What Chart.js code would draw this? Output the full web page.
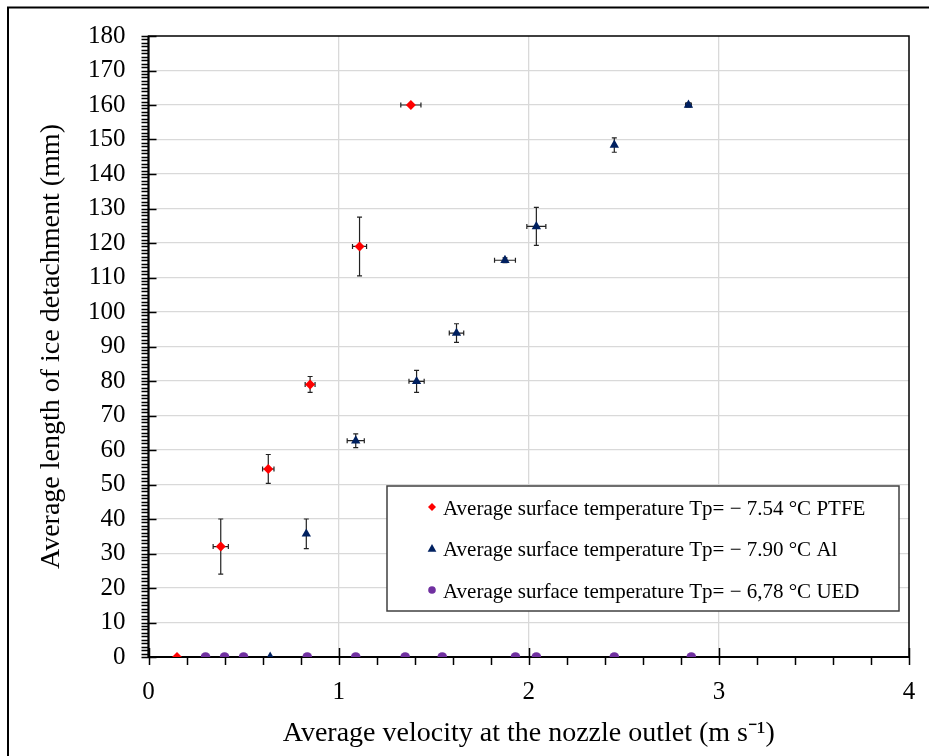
<!DOCTYPE html>
<html><head><meta charset="utf-8">
<script src="https://cdn.jsdelivr.net/npm/chart.js@4.4.1/dist/chart.umd.min.js"></script>
<style>html,body{margin:0;padding:0;background:#fff;}#wrap{width:929px;height:756px;}</style>
</head><body><div id="wrap"><canvas id="c" width="929" height="756"></canvas></div>
<script>
// ---- data ----
const ptfeX    = [0.15, 0.38, 0.63, 0.85, 1.11, 1.38];
const ptfeY    = [0, 32, 54.5, 79, 119, 160];
const ptfeXErr = [0, 0.04, 0.03, 0.026, 0.037, 0.053];
const ptfeYErr = [0, 8, 4.2, 2.3, 8.5, 0.4];

const alX    = [0.64, 0.83, 1.09, 1.41, 1.62, 1.875, 2.04, 2.45, 2.84];
const alY    = [0, 35.7, 62.7, 79.9, 93.9, 115, 124.8, 148.4, 160];
const alXErr = [0, 0, 0.045, 0.04, 0.038, 0.055, 0.05, 0, 0.015];
const alYErr = [0, 4.3, 2, 3.2, 2.7, 0.7, 5.5, 2.1, 0.6];

const uedX = [0.30, 0.40, 0.50, 0.835, 1.09, 1.35, 1.545, 1.93, 2.04, 2.45, 2.855];
const uedY = [0, 0, 0, 0, 0, 0, 0, 0, 0, 0, 0];

const seriesLabels = [
  'Average surface temperature Tp= \u2212 7.54 \u00B0C PTFE',
  'Average surface temperature Tp= \u2212 7.90 \u00B0C Al',
  'Average surface temperature Tp= \u2212 6,78 \u00B0C UED'
];
const xTitle = 'Average velocity at the nozzle outlet (m s\u207B\u00B9)';
const yTitle = 'Average length of ice detachment (mm)';
const xMin = 0, xMax = 4, xStep = 1, xMinor = 0.2;
const yMin = 0, yMax = 180, yStep = 10, yMinor = 1;

const RED = '#ff0000', NAVY = '#002060', PURPLE = '#7030a0';
const SERIF = "'Liberation Serif','Times New Roman',serif";

function pts(xs, ys){ return xs.map((x,i)=>({x:x, y:ys[i]})); }

function drawMarker(ctx, style, x, y, r, color){
  ctx.save();
  ctx.fillStyle = color;
  ctx.beginPath();
  if (style === 'rectRot'){
    ctx.moveTo(x, y - r); ctx.lineTo(x + r, y); ctx.lineTo(x, y + r); ctx.lineTo(x - r, y);
  } else if (style === 'triangle'){
    ctx.moveTo(x, y - r); ctx.lineTo(x + r*0.95, y + r*0.7); ctx.lineTo(x - r*0.95, y + r*0.7);
  } else {
    ctx.arc(x, y, r, 0, Math.PI*2);
  }
  ctx.closePath(); ctx.fill();
  ctx.restore();
}

const errSets = [
  {xs: ptfeX, ys: ptfeY, ex: ptfeXErr, ey: ptfeYErr},
  {xs: alX, ys: alY, ex: alXErr, ey: alYErr}
];

const plotPlugin = {
  id: 'plotPlugin',
  beforeDraw(chart){
    const ctx = chart.ctx;
    ctx.save();
    ctx.fillStyle = '#fff';
    ctx.fillRect(0, 0, chart.width, chart.height);
    ctx.strokeStyle = '#000';
    ctx.lineWidth = 2;
    ctx.beginPath();
    ctx.moveTo(8, chart.height); ctx.lineTo(8, 7.5); ctx.lineTo(chart.width, 7.5);
    ctx.stroke();
    ctx.restore();
  },
  beforeDatasetsDraw(chart){
    const ctx = chart.ctx, xs = chart.scales.x, ys = chart.scales.y;
    const a = chart.chartArea;
    ctx.save();
    // error bars
    ctx.strokeStyle = '#222';
    ctx.lineWidth = 1.2;
    errSets.forEach(s => {
      s.xs.forEach((xv, i) => {
        const px = xs.getPixelForValue(xv), py = ys.getPixelForValue(s.ys[i]);
        if (s.ey[i] > 0){
          const t = ys.getPixelForValue(s.ys[i] + s.ey[i]), b = ys.getPixelForValue(s.ys[i] - s.ey[i]);
          ctx.beginPath();
          ctx.moveTo(px, t); ctx.lineTo(px, b);
          ctx.moveTo(px - 2.5, t); ctx.lineTo(px + 2.5, t);
          ctx.moveTo(px - 2.5, b); ctx.lineTo(px + 2.5, b);
          ctx.stroke();
        }
        if (s.ex[i] > 0){
          const l = xs.getPixelForValue(xv - s.ex[i]), r = xs.getPixelForValue(xv + s.ex[i]);
          ctx.beginPath();
          ctx.moveTo(l, py); ctx.lineTo(r, py);
          ctx.moveTo(l, py - 2.5); ctx.lineTo(l, py + 2.5);
          ctx.moveTo(r, py - 2.5); ctx.lineTo(r, py + 2.5);
          ctx.stroke();
        }
      });
    });
    // frame
    ctx.strokeStyle = '#000';
    ctx.lineWidth = 1.5;
    ctx.strokeRect(a.left, a.top, a.right - a.left, a.bottom - a.top);
    ctx.lineWidth = 2;
    ctx.beginPath();
    ctx.moveTo(a.left, a.top); ctx.lineTo(a.left, a.bottom); ctx.lineTo(a.right, a.bottom);
    ctx.stroke();
    // y ticks
    ctx.lineWidth = 1.5;
    ctx.beginPath();
    for (let v = yMin; v <= yMax + 1e-9; v += yMinor){
      const py = Math.round(ys.getPixelForValue(v)) + 0.5;
      const major = Math.abs(v / yStep - Math.round(v / yStep)) < 1e-6;
      ctx.moveTo(a.left - 7, py); ctx.lineTo(a.left + (major ? 8 : 0), py);
    }
    // x ticks
    for (let v = xMin; v <= xMax + 1e-9; v += xMinor){
      const px = Math.round(xs.getPixelForValue(v)) + 0.5;
      const major = Math.abs(v / xStep - Math.round(v / xStep)) < 1e-6;
      ctx.moveTo(px, a.bottom + 8); ctx.lineTo(px, a.bottom - (major ? 9 : 0));
    }
    ctx.stroke();
    ctx.restore();
  },
  afterDraw(chart){
    const ctx = chart.ctx, a = chart.chartArea;
    const bx = a.right - 522, by = a.bottom - 171, bw = 512, bh = 125;
    ctx.save();
    ctx.fillStyle = '#fff';
    ctx.fillRect(bx, by, bw, bh);
    ctx.strokeStyle = '#404040';
    ctx.lineWidth = 1.5;
    ctx.strokeRect(bx, by, bw, bh);
    const styles = ['rectRot', 'triangle', 'circle'];
    const colors = [RED, NAVY, PURPLE];
    const radii = [4, 4.6, 3.8];
    ctx.font = '21px ' + SERIF;
    ctx.fillStyle = '#000';
    ctx.textBaseline = 'middle';
    ctx.textAlign = 'left';
    seriesLabels.forEach((lab, i) => {
      const cy = by + 22 + i * 41.5;
      drawMarker(ctx, styles[i], bx + 45, cy - 1, radii[i], colors[i]);
      ctx.fillStyle = '#000';
      ctx.fillText(lab, bx + 56, cy + 1);
    });
    ctx.restore();
  }
};

const gridColor = (lo, hi) => c => (c.tick && (c.tick.value === lo || c.tick.value === hi)) ? 'rgba(0,0,0,0)' : '#d9d9d9';

new Chart(document.getElementById('c'), {
  type: 'scatter',
  data: {
    datasets: [
      {label: seriesLabels[0], data: pts(ptfeX, ptfeY), pointStyle: 'rectRot', pointRadius: 5, backgroundColor: RED, borderColor: RED, borderWidth: 0},
      {label: seriesLabels[1], data: pts(alX, alY), pointStyle: 'triangle', pointRadius: 5.4, backgroundColor: NAVY, borderColor: NAVY, borderWidth: 0},
      {label: seriesLabels[2], data: pts(uedX, uedY), pointStyle: 'circle', pointRadius: 4.8, backgroundColor: PURPLE, borderColor: PURPLE, borderWidth: 0}
    ]
  },
  options: {
    responsive: false,
    animation: false,
    events: [],
    layout: {padding: {left: 0, right: 20, top: 36, bottom: 0}},
    plugins: {legend: {display: false}, tooltip: {enabled: false}},
    scales: {
      x: {
        type: 'linear', min: xMin, max: xMax,
        ticks: {stepSize: xStep, color: '#000', font: {family: SERIF, size: 25}, padding: 0},
        grid: {drawTicks: true, tickLength: 20, tickColor: 'rgba(0,0,0,0)', lineWidth: 1.3, color: gridColor(xMin, xMax)},
        border: {display: false},
        title: {display: true, text: xTitle, color: '#000', font: {family: SERIF, size: 28}, padding: {top: 0, bottom: 6}},
        afterFit(s){ s.height = 99; }
      },
      y: {
        type: 'linear', min: yMin, max: yMax,
        ticks: {stepSize: yStep, color: '#000', font: {family: SERIF, size: 25}, padding: 0},
        grid: {drawTicks: true, tickLength: 23, tickColor: 'rgba(0,0,0,0)', lineWidth: 1.3, color: gridColor(yMin, yMax)},
        border: {display: false},
        title: {display: true, text: yTitle, color: '#000', font: {family: SERIF, size: 28}, padding: {top: 35, bottom: 0}},
        afterFit(s){ s.width = 148.5; }
      }
    }
  },
  plugins: [plotPlugin]
});
</script>
</body></html>
